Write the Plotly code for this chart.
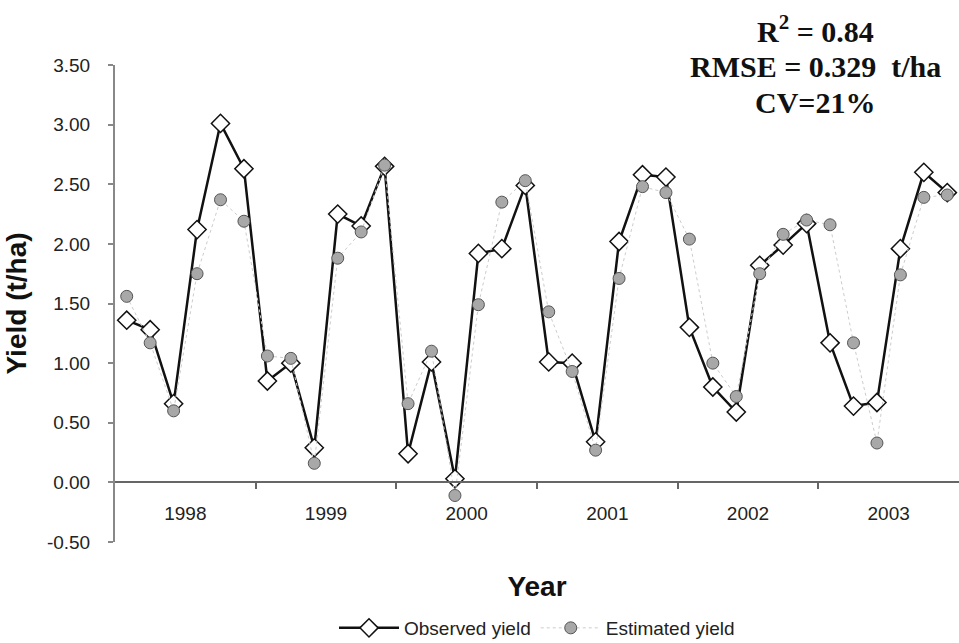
import plotly.graph_objects as go

# ---- data ----
years = ["1998", "1999", "2000", "2001", "2002", "2003"]
periods_per_year = 6

observed_yield = [
    1.36, 1.28, 0.66, 2.12, 3.01, 2.63,
    0.85, 1.00, 0.29, 2.25, 2.15, 2.65,
    0.24, 1.01, 0.03, 1.92, 1.96, 2.49,
    1.01, 1.00, 0.34, 2.02, 2.58, 2.56,
    1.30, 0.80, 0.59, 1.82, 1.99, 2.17,
    1.17, 0.64, 0.67, 1.96, 2.60, 2.43,
]
estimated_yield = [
    1.56, 1.17, 0.60, 1.75, 2.37, 2.19,
    1.06, 1.04, 0.16, 1.88, 2.10, 2.66,
    0.66, 1.10, -0.11, 1.49, 2.35, 2.53,
    1.43, 0.93, 0.27, 1.71, 2.48, 2.43,
    2.04, 1.00, 0.72, 1.75, 2.08, 2.20,
    2.16, 1.17, 0.33, 1.74, 2.39, 2.41,
]
y_tick_values = [-0.5, 0.0, 0.5, 1.0, 1.5, 2.0, 2.5, 3.0, 3.5]
y_tick_labels = ["-0.50", "0.00", "0.50", "1.00", "1.50", "2.00", "2.50", "3.00", "3.50"]
stats_lines = ["R<sup>2</sup> = 0.84", "RMSE = 0.329  t/ha", "CV=21%"]

n = len(observed_yield)
x_idx = list(range(n))
year_centers = [i * periods_per_year + (periods_per_year - 1) / 2 for i in range(len(years))]
year_bounds = [i * periods_per_year - 0.5 for i in range(1, len(years))]

SANS = "Liberation Sans, Arial, sans-serif"
SERIF = "Liberation Serif, Times New Roman, serif"

fig = go.Figure()
fig.add_trace(go.Scatter(
    x=x_idx, y=observed_yield, name="Observed yield",
    mode="lines+markers",
    line=dict(color="#111111", width=2.5),
    marker=dict(symbol="diamond", size=14, color="white",
                line=dict(color="#111111", width=1.5)),
))
fig.add_trace(go.Scatter(
    x=x_idx, y=estimated_yield, name="Estimated yield",
    mode="lines+markers",
    line=dict(color="#cccccc", width=1, dash="dot"),
    marker=dict(symbol="circle", size=12, color="#a8a8a8",
                line=dict(color="#555555", width=1)),
))

y_min, y_max = -0.5, 3.5
W, H = 959, 643
plot_top, plot_bottom_margin = 65, 101
plot_h = H - plot_top - plot_bottom_margin

fig.update_layout(
    width=W, height=H,
    margin=dict(l=115, r=0, t=plot_top, b=plot_bottom_margin, autoexpand=False),
    paper_bgcolor="white", plot_bgcolor="white",
    font=dict(family=SANS, color="#222222"),
    showlegend=True,
    legend=dict(orientation="h", x=0.5, xanchor="center", xref="paper",
                y=1 - 628 / H, yanchor="middle", yref="container",
                font=dict(family=SANS, size=19, color="#222222"),
                itemwidth=60, traceorder="normal"),
    xaxis=dict(
        range=[-0.5, n - 0.5],
        anchor="free", position=(0 - y_min) / (y_max - y_min),
        showline=True, linecolor="#666666", linewidth=1.5,
        showgrid=False, zeroline=False,
        tickmode="array", tickvals=year_centers, ticktext=years, ticks="",
        tickfont=dict(family=SANS, size=19, color="#222222"),
        ticklabelstandoff=14,
        minor=dict(tickmode="array", tickvals=year_bounds, ticks="outside",
                   ticklen=6, tickcolor="#666666", tickwidth=1.5, showgrid=False),
        title=dict(text="<b>Year</b>", font=dict(family=SANS, size=28, color="#111111"),
                   standoff=52),
    ),
    yaxis=dict(
        range=[y_min, y_max],
        showline=True, linecolor="#888888", linewidth=2,
        showgrid=False, zeroline=False,
        tickmode="array", tickvals=y_tick_values, ticktext=y_tick_labels,
        ticks="outside", ticklen=5, tickcolor="#888888", tickwidth=1.5,
        tickfont=dict(family=SANS, size=19, color="#222222"),
        ticklabelstandoff=14,
        title=dict(text="<b>Yield (t/ha)</b>", font=dict(family=SANS, size=28, color="#111111"),
                   standoff=12),
    ),
)

stat_y_px = [29, 66, 102]
for txt, ypx in zip(stats_lines, stat_y_px):
    fig.add_annotation(
        text=txt, xref="paper", yref="paper",
        x=(815 - 115) / (W - 115), y=1 + (plot_top - ypx) / plot_h,
        xanchor="center", yanchor="middle", showarrow=False,
        font=dict(family=SERIF, size=30, color="#111111", weight="bold"),
    )

fig.write_html("out.html")
